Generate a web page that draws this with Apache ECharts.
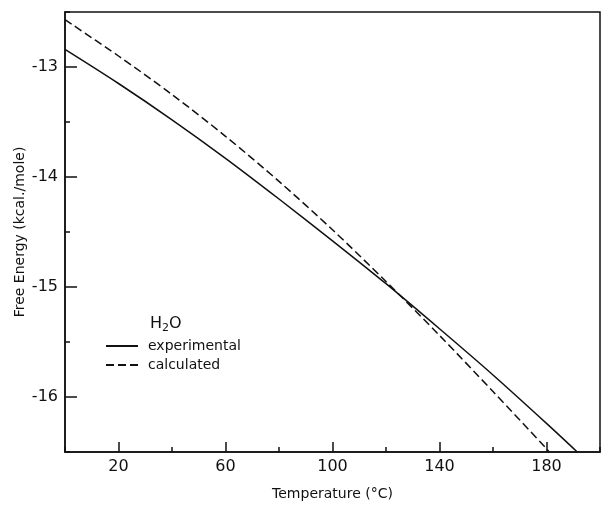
<!DOCTYPE html>
<html>
<head>
<meta charset="utf-8">
<script src="https://cdn.jsdelivr.net/npm/echarts@6/dist/echarts.min.js"></script>
<style>
  html, body { margin: 0; padding: 0; background: #fff; }
  #chart { width: 603px; height: 506px; }
</style>
</head>
<body>
<div id="chart"></div>
<script>
// Data
const temperatures = [0, 20, 40, 60, 80, 100, 120, 140, 160, 180, 191.5];
const experimental = [-12.84, -13.15, -13.48, -13.83, -14.20, -14.58, -14.97, -15.38, -15.80, -16.24, -16.50];
const calcTemperatures = [0, 20, 40, 60, 80, 100, 120, 140, 160, 180, 181];
const calculated = [-12.57, -12.90, -13.25, -13.63, -14.04, -14.48, -14.95, -15.44, -15.95, -16.47, -16.50];
const xTickLabels = ['20', '60', '100', '140', '180'];
const yTickLabels = ['-16', '-15', '-14', '-13'];
const seriesNames = ['experimental', 'calculated'];

const font = '"DejaVu Sans", sans-serif';
const chart = echarts.init(document.getElementById('chart'), null, { renderer: 'canvas' });

const expData = temperatures.map((t, i) => [t, experimental[i]]);
const calcData = calcTemperatures.map((t, i) => [t, calculated[i]]);

chart.setOption({
  animation: false,
  backgroundColor: '#fff',
  title: {
    text: 'H{s|2}O',
    left: 150,
    top: 314,
    padding: 0,
    textStyle: {
      fontFamily: font, fontSize: 16, fontWeight: 'normal', color: '#111',
      rich: { s: { fontFamily: font, fontSize: 11, color: '#111', padding: [9, 0, 0, 0] } }
    }
  },
  legend: {
    orient: 'vertical',
    left: 105,
    top: 339,
    itemWidth: 32,
    itemHeight: 14,
    itemGap: 5,
    padding: 0,
    data: seriesNames,
    itemStyle: { opacity: 0 },
    textStyle: { fontFamily: font, fontSize: 14, color: '#111', padding: [0, 0, 0, 5] }
  },
  grid: {
    left: 65, right: 3, top: 12, bottom: 53,
    show: true, borderColor: '#111', borderWidth: 1.5, backgroundColor: 'transparent'
  },
  xAxis: [
    {
      type: 'value', min: 0, max: 200, interval: 40,
      name: 'Temperature (°C)', nameLocation: 'middle', nameGap: 35,
      nameTextStyle: { fontFamily: font, fontSize: 14, color: '#111' },
      axisLine: { show: true, lineStyle: { color: '#111', width: 1.5 } },
      axisTick: { show: true, inside: true, length: 5, lineStyle: { color: '#111', width: 1.5 } },
      axisLabel: { show: false },
      splitLine: { show: false }
    },
    {
      type: 'category', data: xTickLabels, boundaryGap: true, position: 'bottom',
      axisLine: { show: false },
      axisTick: { show: true, inside: true, length: 10, alignWithLabel: true, lineStyle: { color: '#111', width: 1.5 } },
      axisLabel: { show: true, margin: 7, fontFamily: font, fontSize: 16, color: '#111' },
      splitLine: { show: false }
    }
  ],
  yAxis: [
    {
      type: 'value', min: -16.5, max: -12.5, interval: 0.5,
      name: 'Free Energy (kcal./mole)', nameLocation: 'middle', nameGap: 38,
      nameTextStyle: { fontFamily: font, fontSize: 14, color: '#111' },
      axisLine: { show: true, lineStyle: { color: '#111', width: 1.5 } },
      axisTick: { show: true, inside: true, length: 5, lineStyle: { color: '#111', width: 1.5 } },
      axisLabel: { show: false },
      splitLine: { show: false }
    },
    {
      type: 'category', data: yTickLabels, boundaryGap: true, position: 'left',
      axisLine: { show: false },
      axisTick: { show: true, inside: true, length: 12, alignWithLabel: true, lineStyle: { color: '#111', width: 1.5 } },
      axisLabel: { show: true, margin: 7, fontFamily: font, fontSize: 16, color: '#111' },
      splitLine: { show: false }
    }
  ],
  series: [
    {
      name: seriesNames[0], type: 'line', xAxisIndex: 0, yAxisIndex: 0,
      data: expData, smooth: 0.3, symbol: 'none', showSymbol: false, clip: true,
      lineStyle: { color: '#111', width: 1.5, type: 'solid' },
      itemStyle: { color: '#111' }
    },
    {
      name: seriesNames[1], type: 'line', xAxisIndex: 0, yAxisIndex: 0,
      data: calcData, smooth: 0.3, symbol: 'none', showSymbol: false, clip: true,
      lineStyle: { color: '#111', width: 1.5, type: [8, 4] },
      itemStyle: { color: '#111' }
    }
  ]
});
</script>
</body>
</html>
